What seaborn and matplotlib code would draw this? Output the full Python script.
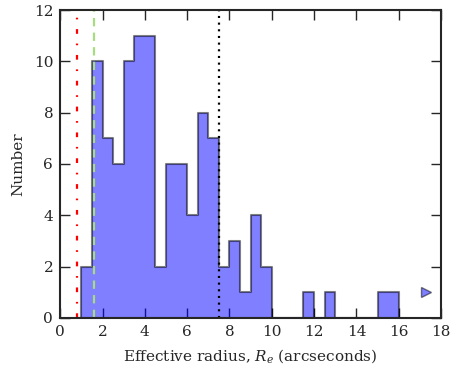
import numpy as np
import pandas as pd
import matplotlib
matplotlib.use("Agg")
import matplotlib.pyplot as plt
import seaborn as sns

# Histogram bins (left edges, width 0.5) and counts
bin_left = [1.0, 1.5, 2.0, 2.5, 3.0, 3.5, 4.0, 4.5, 5.0, 5.5, 6.0, 6.5, 7.0, 7.5,
            8.0, 8.5, 9.0, 9.5, 10.0, 10.5, 11.0, 11.5, 12.0, 12.5, 13.0, 13.5,
            14.0, 14.5, 15.0, 15.5]
counts = [2, 10, 7, 6, 10, 11, 11, 2, 6, 6, 4, 8, 7, 2,
          3, 1, 4, 2, 0, 0, 0, 1, 0, 1, 0, 0,
          0, 0, 1, 1]
bin_width = 0.5

# Reference vertical lines
red_line_x = 0.78
green_line_x = 1.58
black_line_x = 7.5

# Off-scale arrow marker
arrow_x = [17.3]
arrow_y = [1]

x_ticks = [0, 2, 4, 6, 8, 10, 12, 14, 16, 18]
y_ticks = [0, 2, 4, 6, 8, 10, 12]

sns.set_style("ticks")
plt.rcParams["font.family"] = ["DejaVu Serif"]
plt.rcParams["mathtext.fontset"] = "dejavuserif"
plt.rcParams["lines.scale_dashes"] = False

fig = plt.figure(figsize=(4.63, 3.71), dpi=100)
ax = fig.add_axes([0.130, 0.143, 0.8225, 0.830])

df = pd.DataFrame({"center": np.array(bin_left) + bin_width / 2, "count": counts})
edges = list(bin_left) + [bin_left[-1] + bin_width]
sns.histplot(data=df, x="center", weights="count", bins=edges, element="step",
             fill=True, color="blue", alpha=0.5, edgecolor=(0, 0, 0, 0.5),
             linewidth=1.5, ax=ax)

ax.axvline(red_line_x, color="red", linewidth=1.6, dashes=(3.4, 7.0, 1.2, 7.0))
ax.axvline(green_line_x, color="#a8dc80", linewidth=1.6, dashes=(6.0, 4.5))
ax.axvline(black_line_x, color="black", linewidth=1.6, dashes=(1.5, 3.3))

ax.plot(arrow_x, arrow_y, marker=">", linestyle="none", markersize=7,
        markerfacecolor=(0, 0, 1, 0.5), markeredgecolor=(0, 0, 0, 0.5), markeredgewidth=1.0)

ax.set_xlim(0, 18)
ax.set_ylim(0, 12)
ax.set_xticks(x_ticks)
ax.set_yticks(y_ticks)
ax.tick_params(direction="in", top=True, right=True, length=7, width=1, labelsize=11, pad=5)
for s in ax.spines.values():
    s.set_linewidth(1.5)
    s.set_visible(True)

ax.set_xlabel(r"Effective radius, $R_e$ (arcseconds)", fontsize=11, labelpad=6)
ax.set_ylabel("Number", fontsize=11, labelpad=6)

fig.savefig("out.png", dpi=100, facecolor="white")
